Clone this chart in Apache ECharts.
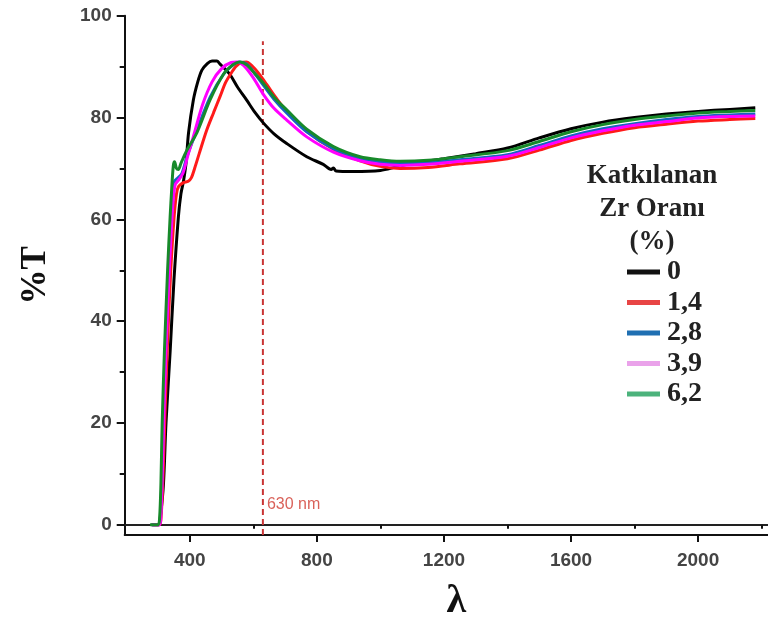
<!DOCTYPE html>
<html>
<head>
<meta charset="utf-8">
<script src="https://cdn.jsdelivr.net/npm/echarts@6/dist/echarts.min.js"></script>
<style>
  html, body { margin: 0; padding: 0; background: #fff; }
  #chart { width: 768px; height: 626px; }
</style>
</head>
<body>
<div id="chart"></div>
<script>
// Transmittance spectra (%T vs wavelength, nm) of films with different Zr doping ratios
const seriesNames = ['0', '1,4', '2,8', '3,9', '6,2'];

const zr0 = [[280,0],[302,0],[308,2],[317,8],[325,20],[338,34],[350,48],[364,60.5],[372,65],[380,67.5],[388,71],[396,77],[411,83.4],[425,87],[438,89.3],[455,90.6],[470,91.1],[485,91.1],[495,90.5],[510,89.6],[527,88.4],[550,86],[579,83.4],[605,81],[632,78.9],[665,76.8],[705,74.9],[768,72.3],[820,70.8],[845,69.8],[852,70.1],[860,69.5],[914,69.4],[1000,69.6],[1050,70.3],[1100,71],[1200,71.9],[1300,72.9],[1400,74],[1500,76],[1600,77.8],[1700,79.1],[1800,80],[1900,80.7],[2000,81.2],[2100,81.6],[2180,81.9]];

const zr14 = [[285,0],[305,0],[310,2],[316,10],[322,22],[330,36],[340,50],[350,60],[358,65],[365,66.5],[380,67.2],[395,67.5],[405,68.2],[415,70],[430,73],[453,77.5],[475,81],[495,84.1],[512,86.8],[527,88.4],[545,90],[562,90.8],[578,90.9],[595,90.2],[615,88.8],[642,86.5],[670,84],[705,81.2],[768,77.3],[852,73.8],[936,71.5],[999,70.4],[1062,70],[1150,70.2],[1250,70.9],[1400,71.9],[1500,73.6],[1600,75.5],[1700,76.9],[1800,78],[1900,78.7],[2000,79.3],[2100,79.6],[2180,79.8]];

const zr28 = [[280,0],[303,0],[308,2],[313,12],[320,28],[330,45],[340,58],[347,65],[352,67.5],[360,68],[375,69],[392,72.5],[422,77.5],[464,84],[506,88.5],[537,90.4],[555,90.9],[578,90.5],[605,88.6],[632,86.3],[665,83.6],[705,80.9],[768,77.2],[852,73.9],[936,72],[999,71.3],[1062,71],[1150,71.1],[1250,71.7],[1400,72.7],[1500,74.5],[1600,76.4],[1700,77.8],[1800,78.8],[1900,79.6],[2000,80.2],[2100,80.5],[2180,80.7]];

const zr39 = [[280,0],[304,0],[309,2],[314,11],[321,27],[331,44],[341,57],[348,64],[354,66.8],[362,67.5],[378,69],[395,72.8],[410,76],[440,82.5],[470,87],[500,89.6],[530,90.8],[548,90.9],[570,90.2],[600,87.8],[632,84.5],[665,81.8],[705,79.5],[768,76.2],[852,73.2],[936,71.5],[999,70.8],[1062,70.6],[1150,70.8],[1250,71.4],[1400,72.4],[1500,74.1],[1600,76],[1700,77.4],[1800,78.5],[1900,79.2],[2000,79.9],[2100,80.2],[2180,80.3]];

const zr62 = [[275,0],[300,0],[305,1.5],[309,8],[313,20],[320,34],[330,50],[338,60.5],[343,66],[348,70.5],[352,71.3],[358,70],[364,69.8],[372,71],[390,73.5],[422,77],[464,83.5],[506,88.5],[537,90.4],[558,90.9],[580,90.3],[605,88.6],[632,86.7],[665,84],[705,81.5],[768,77.7],[852,74.3],[936,72.3],[999,71.7],[1062,71.4],[1150,71.6],[1250,72.3],[1400,73.5],[1500,75.3],[1600,77.2],[1700,78.6],[1800,79.6],[1900,80.3],[2000,80.9],[2100,81.2],[2180,81.4]];

// Reference wavelength marker
const markerNm = 630;
const markerLine = [[markerNm, -2], [markerNm, 95]];
const markerLabel = [[markerNm, 4]];

// Tick positions
const xMajorTicks = [400, 800, 1200, 1600, 2000];
const xMinorTicks = [600, 1000, 1400, 1800, 2200];
const yMajorTicks = [0, 20, 40, 60, 80, 100];
const yMinorTicks = [10, 30, 50, 70, 90];

const curveColors = ['#000000', '#ff1a1a', '#1565c0', '#ff00ff', '#178a2a'];
const legendColors = ['#111111', '#e84545', '#1f6fb2', '#eaa2ea', '#4cb37c'];
const curveData = [zr0, zr14, zr28, zr39, zr62];

const X_MIN = 195, X_MAX = 2220, Y_MIN = -2, Y_MAX = 100;
const axisColor = '#111';
const tickFont = { fontFamily: 'Liberation Sans', fontWeight: 'bold', fontSize: 19, color: '#444' };
const plainNumber = v => String(v);

const chart = echarts.init(document.getElementById('chart'));

const series = [
  {
    type: 'line',
    data: markerLine,
    symbol: 'none',
    silent: true,
    lineStyle: { color: '#c93434', width: 2, type: [6, 4] },
    z: 1
  },
  {
    type: 'scatter',
    data: markerLabel,
    symbolSize: 0,
    silent: true,
    label: {
      show: true,
      position: 'right',
      distance: 4,
      formatter: '630 nm',
      fontFamily: 'Liberation Sans',
      fontSize: 16,
      color: '#d03a30'
    },
    z: 1
  }
];
seriesNames.forEach((name, i) => {
  series.push({
    name: name,
    type: 'line',
    data: curveData[i],
    symbol: 'none',
    smooth: 0.3,
    lineStyle: { color: curveColors[i], width: 3 },
    itemStyle: { color: curveColors[i] },
    z: 2 + i
  });
});

chart.setOption({
  animation: false,
  backgroundColor: '#ffffff',
  grid: { left: 124.7, top: 15.7, right: 0, bottom: 91, outerBoundsMode: 'none', containLabel: false },
  title: {
    text: 'Katkılanan\nZr Oranı\n(%)',
    left: 652,
    top: 160,
    padding: 0,
    textAlign: 'center',
    textStyle: {
      fontFamily: 'Liberation Serif',
      fontWeight: 'bold',
      fontSize: 27,
      lineHeight: 33,
      color: '#222'
    }
  },
  legend: {
    orient: 'vertical',
    left: 627,
    top: 258,
    padding: 0,
    icon: 'rect',
    itemWidth: 33,
    itemHeight: 5,
    itemGap: 2.5,
    data: seriesNames.map((n, i) => ({
      name: n,
      itemStyle: { color: legendColors[i] }
    })),
    textStyle: {
      fontFamily: 'Liberation Serif',
      fontWeight: 'bold',
      fontSize: 28,
      lineHeight: 28,
      color: '#222',
      padding: [0, 0, 0, 2]
    }
  },
  xAxis: [
    {
      type: 'value', min: X_MIN, max: X_MAX, position: 'bottom',
      name: 'λ', nameLocation: 'middle', nameGap: 47,
      nameTextStyle: { fontFamily: 'Liberation Serif', fontWeight: 'bold', fontSize: 40, color: '#111', padding: [0, 0, 0, 20] },
      axisLine: { show: true, onZero: false, lineStyle: { color: axisColor, width: 2 } },
      axisTick: { show: true, customValues: xMajorTicks, length: 7, lineStyle: { color: axisColor, width: 2 } },
      axisLabel: { customValues: xMajorTicks, margin: 16, formatter: plainNumber, ...tickFont },
      splitLine: { show: false }
    },
    {
      type: 'value', min: X_MIN, max: X_MAX, position: 'bottom',
      axisLine: { show: false },
      axisTick: { show: true, customValues: xMinorTicks, length: 4, lineStyle: { color: axisColor, width: 2 } },
      axisLabel: { show: false },
      splitLine: { show: false }
    },
    {
      type: 'value', min: X_MIN, max: X_MAX, position: 'top',
      axisLine: { show: true, lineStyle: { color: '#222', width: 2 } },
      axisTick: { show: false },
      axisLabel: { show: false },
      splitLine: { show: false }
    }
  ],
  yAxis: [
    {
      type: 'value', min: Y_MIN, max: Y_MAX, position: 'left',
      name: '%T', nameLocation: 'middle', nameGap: 71, nameRotate: 90,
      nameTextStyle: { fontFamily: 'Liberation Serif', fontWeight: 'bold', fontSize: 35, color: '#111' },
      axisLine: { show: true, onZero: false, lineStyle: { color: axisColor, width: 2 } },
      axisTick: { show: true, customValues: yMajorTicks, length: 8, lineStyle: { color: axisColor, width: 2 } },
      axisLabel: { customValues: yMajorTicks, margin: 13, formatter: plainNumber, ...tickFont },
      splitLine: { show: false }
    },
    {
      type: 'value', min: Y_MIN, max: Y_MAX, position: 'left',
      axisLine: { show: false },
      axisTick: { show: true, customValues: yMinorTicks, length: 5, lineStyle: { color: axisColor, width: 2 } },
      axisLabel: { show: false },
      splitLine: { show: false }
    }
  ],
  series: series
});
</script>
</body>
</html>
